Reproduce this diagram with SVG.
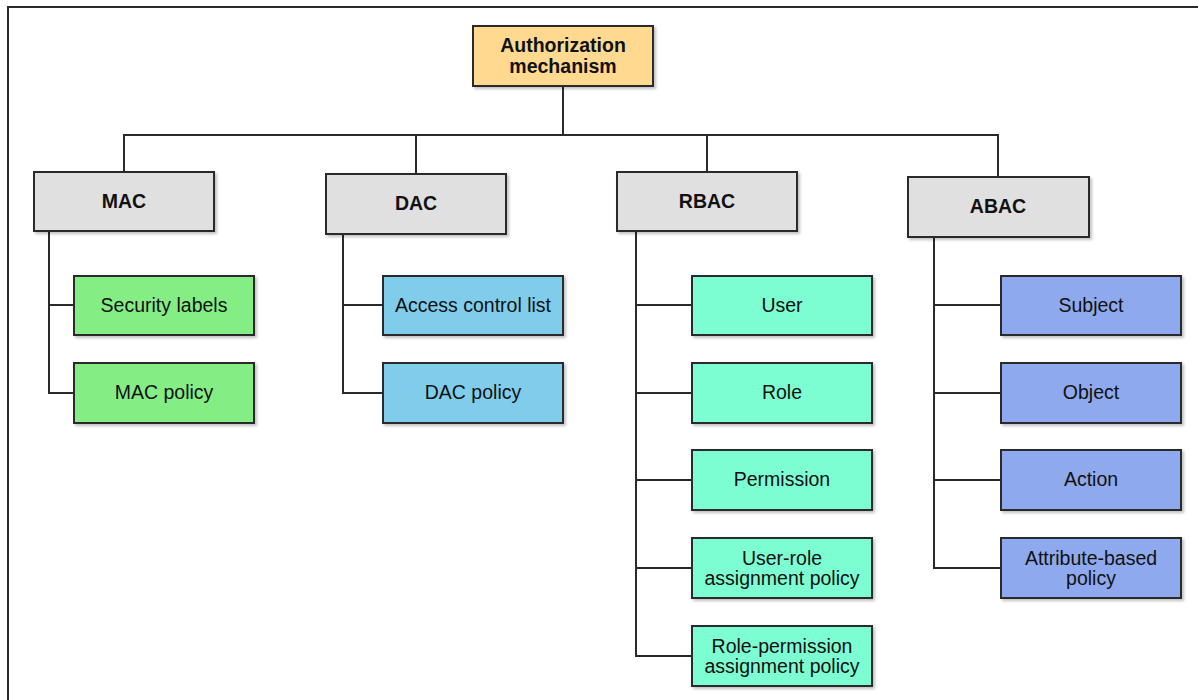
<svg xmlns="http://www.w3.org/2000/svg" width="1198" height="700" viewBox="0 0 1198 700">
  <defs>
    <filter id="shadow" x="-10%" y="-10%" width="125%" height="130%">
      <feGaussianBlur in="SourceAlpha" stdDeviation="1.5"/>
      <feOffset dx="2" dy="2" result="b"/>
      <feComponentTransfer><feFuncA type="linear" slope="0.25"/></feComponentTransfer>
      <feMerge><feMergeNode/><feMergeNode in="SourceGraphic"/></feMerge>
    </filter>
    <style>
      .box { stroke: #2a2a2a; stroke-width: 2; filter: url(#shadow); }
      .root { fill: #fed98f; }
      .cat { fill: #e0e0e0; }
      .mac { fill: #84ee84; }
      .dac { fill: #80cdeb; }
      .rbac { fill: #7dfdd2; }
      .abac { fill: #8fa9ee; }
      text { font-family: "Liberation Sans", Arial, sans-serif; font-size: 19.5px; fill: #111; text-anchor: middle; }
      .bold { font-weight: bold; font-size: 19.5px; }
      .wire { fill: none; stroke: #2a2a2a; stroke-width: 2; }
      .frame { fill: none; stroke: #2a2a2a; stroke-width: 2; }
    </style>
  </defs>

  <rect width="1198" height="700" fill="#ffffff"/>
  <!-- outer frame (top and left edges) -->
  <path class="frame" d="M1198 7 H8 V700"/>

  <!-- connectors -->
  <g id="connectors">
    <path class="wire" d="M563 86 V135"/>
    <path class="wire" d="M124 172 V135 H998 V177"/>
    <path class="wire" d="M416 135 V174"/>
    <path class="wire" d="M707 135 V172"/>
    <!-- MAC branch -->
    <path class="wire" d="M49 231 V393 H74"/>
    <path class="wire" d="M49 305 H74"/>
    <!-- DAC branch -->
    <path class="wire" d="M343 234 V393 H383"/>
    <path class="wire" d="M343 305 H383"/>
    <!-- RBAC branch -->
    <path class="wire" d="M636 231 V656 H692"/>
    <path class="wire" d="M636 305 H692 M636 393 H692 M636 480 H692 M636 568 H692"/>
    <!-- ABAC branch -->
    <path class="wire" d="M934 237 V568 H1001"/>
    <path class="wire" d="M934 305 H1001 M934 393 H1001 M934 480 H1001"/>
  </g>

  <g id="authorization-mechanism">
    <rect class="box root" x="473" y="26" width="180" height="60"/>
    <text class="bold" x="563" y="52">Authorization</text>
    <text class="bold" x="563" y="73">mechanism</text>
  </g>

  <g id="mac">
    <rect class="box cat" x="34" y="172" width="180" height="59"/>
    <text class="bold" x="124" y="208">MAC</text>
  </g>
  <g id="dac">
    <rect class="box cat" x="326" y="174" width="180" height="60"/>
    <text class="bold" x="416" y="210">DAC</text>
  </g>
  <g id="rbac">
    <rect class="box cat" x="617" y="172" width="180" height="59"/>
    <text class="bold" x="707" y="208">RBAC</text>
  </g>
  <g id="abac">
    <rect class="box cat" x="908" y="177" width="181" height="60"/>
    <text class="bold" x="998" y="213">ABAC</text>
  </g>

  <g id="security-labels">
    <rect class="box mac" x="74" y="276" width="180" height="59"/>
    <text x="164" y="312">Security labels</text>
  </g>
  <g id="mac-policy">
    <rect class="box mac" x="74" y="363" width="180" height="60"/>
    <text x="164" y="399">MAC policy</text>
  </g>

  <g id="access-control-list">
    <rect class="box dac" x="383" y="276" width="180" height="59"/>
    <text x="473" y="312">Access control list</text>
  </g>
  <g id="dac-policy">
    <rect class="box dac" x="383" y="363" width="180" height="60"/>
    <text x="473" y="399">DAC policy</text>
  </g>

  <g id="user">
    <rect class="box rbac" x="692" y="276" width="180" height="59"/>
    <text x="782" y="312">User</text>
  </g>
  <g id="role">
    <rect class="box rbac" x="692" y="363" width="180" height="60"/>
    <text x="782" y="399">Role</text>
  </g>
  <g id="permission">
    <rect class="box rbac" x="692" y="450" width="180" height="60"/>
    <text x="782" y="486">Permission</text>
  </g>
  <g id="user-role-policy">
    <rect class="box rbac" x="692" y="538" width="180" height="60"/>
    <text x="782" y="565">User-role</text>
    <text x="782" y="585">assignment policy</text>
  </g>
  <g id="role-permission-policy">
    <rect class="box rbac" x="692" y="626" width="180" height="60"/>
    <text x="782" y="653">Role-permission</text>
    <text x="782" y="673">assignment policy</text>
  </g>

  <g id="subject">
    <rect class="box abac" x="1001" y="276" width="180" height="59"/>
    <text x="1091" y="312">Subject</text>
  </g>
  <g id="object">
    <rect class="box abac" x="1001" y="363" width="180" height="60"/>
    <text x="1091" y="399">Object</text>
  </g>
  <g id="action">
    <rect class="box abac" x="1001" y="450" width="180" height="60"/>
    <text x="1091" y="486">Action</text>
  </g>
  <g id="attribute-based-policy">
    <rect class="box abac" x="1001" y="538" width="180" height="60"/>
    <text x="1091" y="565">Attribute-based</text>
    <text x="1091" y="585">policy</text>
  </g>
</svg>
